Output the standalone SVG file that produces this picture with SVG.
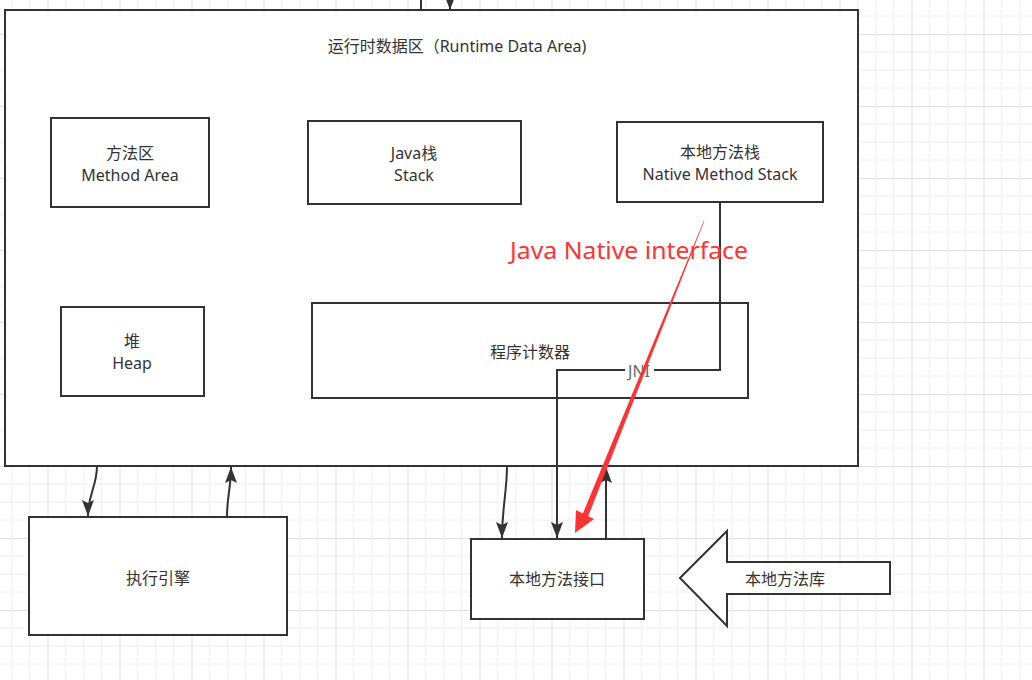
<svg xmlns="http://www.w3.org/2000/svg" width="1032" height="680" viewBox="0 0 1032 680">
<defs>
<pattern id="grid" patternUnits="userSpaceOnUse" x="47.5" y="34" width="72" height="72">
<path d="M18,0V72M36,0V72M54,0V72M0,18H72M0,36H72M0,54H72" stroke="#ececec" stroke-width="1" fill="none"/>
<path d="M0.5,0V72M0,0.5H72" stroke="#e0e0e0" stroke-width="1" fill="none"/>
</pattern>
<marker id="ah" markerUnits="userSpaceOnUse" markerWidth="18" markerHeight="14" refX="16" refY="7" orient="auto">
<path d="M0,1 L16,7 L0,13 L3,7 z" fill="#333"/>
</marker>
<style>
.box{fill:#fff;stroke:#333;stroke-width:2}
.t{font-family:"Noto Sans","Noto Sans CJK SC",sans-serif;font-size:16px;fill:#333;text-anchor:middle;dominant-baseline:central}
.c{fill:none;stroke:#333;stroke-width:2}
</style>
</defs>
<rect width="1032" height="680" fill="#fff"/>
<rect width="1032" height="680" fill="url(#grid)"/>

<g id="runtime-data-area">
<rect class="box" x="5" y="10" width="853" height="456"/>
<text class="t" x="457" y="46">运行时数据区（Runtime Data Area)</text>
</g>
<g id="method-area">
<rect class="box" x="51" y="118" width="158" height="89"/>
<text class="t" x="130" y="152.5"><tspan x="130">方法区</tspan><tspan x="130" dy="22">Method Area</tspan></text>
</g>
<g id="java-stack">
<rect class="box" x="308" y="121" width="213" height="83"/>
<text class="t" x="414" y="152.5"><tspan x="414">Java栈</tspan><tspan x="414" dy="22">Stack</tspan></text>
</g>
<g id="native-method-stack">
<rect class="box" x="617" y="122" width="206" height="80"/>
<text class="t" x="720" y="151.5"><tspan x="720">本地方法栈</tspan><tspan x="720" dy="22">Native Method Stack</tspan></text>
</g>
<g id="heap">
<rect class="box" x="61" y="307" width="143" height="89"/>
<text class="t" x="132" y="340.5"><tspan x="132">堆</tspan><tspan x="132" dy="22">Heap</tspan></text>
</g>
<g id="pc-register">
<rect class="box" x="312" y="303" width="436" height="95"/>
<text class="t" x="530" y="352">程序计数器</text>
</g>
<g id="execution-engine">
<rect class="box" x="29" y="517" width="258" height="118"/>
<text class="t" x="158" y="578">执行引擎</text>
</g>
<g id="native-interface">
<rect class="box" x="471" y="539" width="173" height="80"/>
<text class="t" x="557" y="579">本地方法接口</text>
</g>
<g id="native-library">
<polygon class="box" points="680,578 727,531 727,562 890,562 890,594 727,594 727,626"/>
<text class="t" x="785" y="579">本地方法库</text>
</g>

<g id="connectors">
<path class="c" d="M421,10 V-5"/>
<path class="c" d="M450,-10 V10" marker-end="url(#ah)"/>
<path class="c" d="M97,466 C97,486 88,494 88,516" marker-end="url(#ah)"/>
<path class="c" d="M227,517 C227,496 231,488 231,467" marker-end="url(#ah)"/>
<path class="c" d="M507,466 C507,490 502,510 502,538" marker-end="url(#ah)"/>
<path class="c" d="M606,539 V467" marker-end="url(#ah)"/>
<path class="c" d="M720,202 V370 H557 V538" marker-end="url(#ah)"/>
<rect x="625" y="362" width="29" height="17" fill="#fff"/>
<text class="t" x="639" y="371" style="fill:#666">JNI</text>
</g>

<g id="annotation">
<text x="510" y="259" font-family="'Noto Sans','Open Sans',sans-serif" font-size="24" fill="#ff3333" textLength="238" lengthAdjust="spacingAndGlyphs">Java Native interface</text>
<polygon points="703.7,220.9 704.3,221.1 587.5,518 582,515.6" fill="#ff3333"/>
<polygon points="575,533 576,510 594,519" fill="#ff3333"/>
</g>
</svg>
